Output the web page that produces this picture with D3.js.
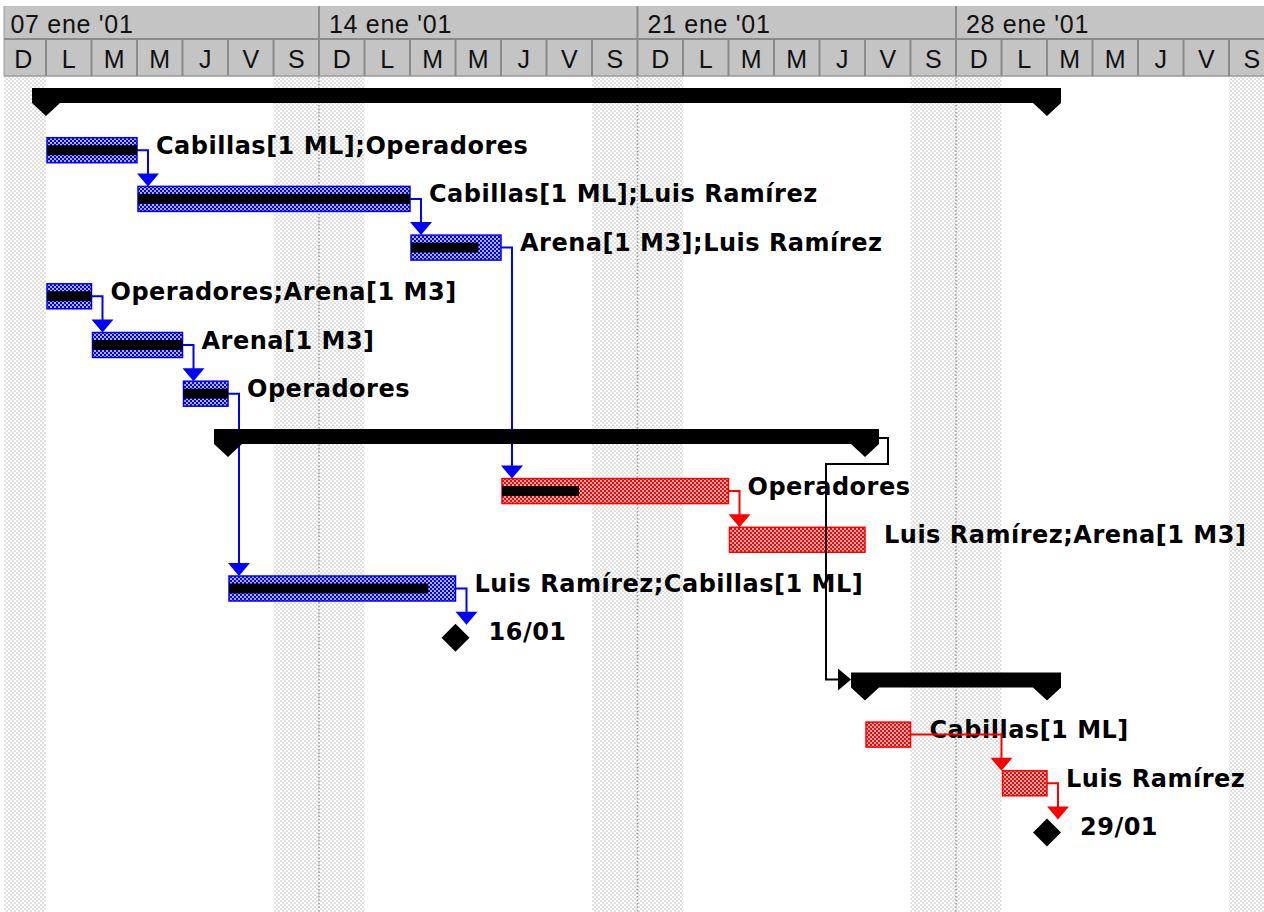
<!DOCTYPE html>
<html lang="es">
    <head>
        <meta charset="UTF-8" />
        <title>Diagrama de Gantt</title>
        <style>
            html,
            body {
                margin: 0;
                padding: 0;
                background: #fff;
            }
            .hdr {
                font-family: "Liberation Sans", Arial, sans-serif;
                font-size: 25px;
                fill: #111;
            }
            .lbl {
                font-family: "DejaVu Sans", sans-serif;
                font-weight: bold;
                font-size: 24px;
                letter-spacing: 0.5px;
                fill: #000;
            }
        </style>
    </head>
    <body>
        <div id="chart"></div>
        <script src="https://cdn.jsdelivr.net/npm/d3@7"></script>
        <script>
            const width = 1264;
            const height = 912;

            // timescale
            const rangeStart = "2001-01-07";
            const rangeEnd = "2001-02-04";
            const dayLetters = ["D", "L", "M", "M", "J", "V", "S"];
            const monthAbbr = ["ene", "feb", "mar", "abr", "may", "jun", "jul", "ago", "sep", "oct", "nov", "dic"];

            // tasks, one per row
            const taskNames = [
                "",
                "Cabillas[1 ML];Operadores",
                "Cabillas[1 ML];Luis Ramírez",
                "Arena[1 M3];Luis Ramírez",
                "Operadores;Arena[1 M3]",
                "Arena[1 M3]",
                "Operadores",
                "",
                "Operadores",
                "Luis Ramírez;Arena[1 M3]",
                "Luis Ramírez;Cabillas[1 ML]",
                "",
                "",
                "Cabillas[1 ML]",
                "Luis Ramírez",
                ""
            ];
            const taskTypes = [
                "summary", "task", "task", "task", "task", "task", "task",
                "summary", "task", "task", "task", "milestone",
                "summary", "task", "task", "milestone"
            ];
            const taskStarts = [
                "2001-01-08", "2001-01-08", "2001-01-10", "2001-01-16", "2001-01-08", "2001-01-09", "2001-01-11",
                "2001-01-12", "2001-01-18", "2001-01-23", "2001-01-12", "2001-01-16",
                "2001-01-26", "2001-01-26", "2001-01-29", "2001-01-29"
            ];
            const taskFinishes = [
                "2001-01-29", "2001-01-09", "2001-01-15", "2001-01-17", "2001-01-08", "2001-01-10", "2001-01-11",
                "2001-01-25", "2001-01-22", "2001-01-25", "2001-01-16", "2001-01-16",
                "2001-01-29", "2001-01-26", "2001-01-29", "2001-01-29"
            ];
            const taskProgress = [0, 1, 1, 0.75, 1, 1, 1, 0, 0.34, 0, 0.88, 0, 0, 0, 0, 0];
            const taskCritical = [false, false, false, false, false, false, false, false, true, true, false, true, false, true, true, true];

            // finish-to-start links [from, to]
            const links = [[1, 2], [2, 3], [3, 8], [4, 5], [5, 6], [6, 10], [8, 9], [10, 11], [7, 12], [13, 14], [14, 15]];

            const parse = d3.timeParse("%Y-%m-%d");
            const tasks = taskNames.map((name, i) => ({
                i,
                name,
                type: taskTypes[i],
                start: parse(taskStarts[i]),
                end: d3.timeDay.offset(parse(taskFinishes[i]), 1),
                finish: parse(taskFinishes[i]),
                progress: taskProgress[i],
                critical: taskCritical[i]
            }));

            const x = d3.scaleTime().domain([parse(rangeStart), parse(rangeEnd)]).range([0.5, 1274.5]);
            const rowTop = d3.scaleLinear().domain([0, 1]).range([88, 136.7]);

            const blue = "#0000ff";
            const red = "#ff0000";
            const colorOf = t => (t.type === "summary" ? "#000" : t.critical ? red : blue);

            const svg = d3.select("#chart").append("svg").attr("width", width).attr("height", height);
            const defs = svg.append("defs");

            function dotPattern(id, bg, dot, r) {
                const p = defs
                    .append("pattern")
                    .attr("id", id)
                    .attr("width", 4)
                    .attr("height", 4)
                    .attr("patternUnits", "userSpaceOnUse");
                p.append("rect").attr("width", 4).attr("height", 4).attr("fill", bg);
                p.append("circle").attr("cx", 1).attr("cy", 1).attr("r", r).attr("fill", dot);
                p.append("circle").attr("cx", 3).attr("cy", 3).attr("r", r).attr("fill", dot);
            }
            dotPattern("pat-weekend", "#fff", "#c2c2c2", 0.85);
            dotPattern("pat-blue", blue, "#fff", 0.95);
            dotPattern("pat-red", red, "#fff", 0.95);

            const chartTop = 77;
            const leftEdge = 4;
            const days = d3.timeDay.range(parse(rangeStart), parse(rangeEnd));
            const weeks = d3.timeWeek.range(parse(rangeStart), parse(rangeEnd));

            // weekend shading
            svg.append("g")
                .selectAll("rect")
                .data(days.filter(d => d.getDay() === 0 || d.getDay() === 6))
                .join("rect")
                .attr("x", d => Math.max(leftEdge, x(d)))
                .attr("y", chartTop)
                .attr("width", d => x(d3.timeDay.offset(d, 1)) - Math.max(leftEdge, x(d)))
                .attr("height", height - chartTop)
                .attr("fill", "url(#pat-weekend)");

            svg.append("g")
                .selectAll("line")
                .data(weeks.filter(d => x(d) > leftEdge))
                .join("line")
                .attr("x1", d => x(d))
                .attr("x2", d => x(d))
                .attr("y1", chartTop)
                .attr("y2", height)
                .attr("stroke", "#9a9a9a")
                .attr("stroke-width", 1.5)
                .attr("stroke-dasharray", "1.5 2");

            // header
            const hdr = svg.append("g");
            hdr.append("rect").attr("x", leftEdge).attr("y", 6).attr("width", width - leftEdge).attr("height", 70).attr("fill", "#c4c4c4");
            hdr.append("line").attr("x1", leftEdge).attr("x2", width).attr("y1", 39).attr("y2", 39).attr("stroke", "#8a8a8a").attr("stroke-width", 2);
            hdr.append("line").attr("x1", leftEdge).attr("x2", width).attr("y1", 76).attr("y2", 76).attr("stroke", "#9a9a9a").attr("stroke-width", 1.5);
            hdr.append("line").attr("x1", leftEdge).attr("x2", leftEdge).attr("y1", 6).attr("y2", 76).attr("stroke", "#9a9a9a").attr("stroke-width", 1);

            hdr.selectAll(".dsep")
                .data(days.filter(d => x(d) > leftEdge))
                .join("line")
                .attr("class", "dsep")
                .attr("x1", d => x(d))
                .attr("x2", d => x(d))
                .attr("y1", 39)
                .attr("y2", 76)
                .attr("stroke", "#8a8a8a")
                .attr("stroke-width", 2);

            hdr.selectAll(".wsep")
                .data(weeks.filter(d => x(d) > leftEdge))
                .join("line")
                .attr("class", "wsep")
                .attr("x1", d => x(d))
                .attr("x2", d => x(d))
                .attr("y1", 6)
                .attr("y2", 39)
                .attr("stroke", "#8a8a8a")
                .attr("stroke-width", 2);

            const fmtDay = d3.timeFormat("%d");
            const fmtYear = d3.timeFormat("%y");
            hdr.selectAll(".wlbl")
                .data(weeks)
                .join("text")
                .attr("class", "hdr wlbl")
                .attr("x", d => x(d) + 10)
                .attr("y", 33)
                .attr("letter-spacing", 0.7)
                .text(d => `${fmtDay(d)} ${monthAbbr[d.getMonth()]} '${fmtYear(d)}`);

            hdr.selectAll(".dlbl")
                .data(days)
                .join("text")
                .attr("class", "hdr dlbl")
                .attr("x", d => (x(d) + x(d3.timeDay.offset(d, 1))) / 2)
                .attr("y", 68)
                .attr("text-anchor", "middle")
                .text(d => dayLetters[d.getDay()]);

            // task bars
            const barH = 25;
            const plain = tasks.filter(t => t.type === "task");
            const bars = svg.append("g");
            bars.selectAll(".bar")
                .data(plain)
                .join("rect")
                .attr("class", "bar")
                .attr("x", t => x(t.start) + 1)
                .attr("y", t => rowTop(t.i) + 1)
                .attr("width", t => x(t.end) - x(t.start) - 1)
                .attr("height", barH)
                .attr("fill", t => (t.critical ? "url(#pat-red)" : "url(#pat-blue)"))
                .attr("stroke", t => colorOf(t))
                .attr("stroke-width", 1.5);

            bars.selectAll(".prog")
                .data(plain.filter(t => t.progress > 0))
                .join("rect")
                .attr("class", "prog")
                .attr("x", t => x(t.start) + 1)
                .attr("y", t => rowTop(t.i) + 8.5)
                .attr("width", t => (x(t.end) - x(t.start) - 1) * t.progress)
                .attr("height", 10)
                .attr("fill", "#000");

            // milestones
            const ms = tasks.filter(t => t.type === "milestone");
            bars.selectAll(".ms")
                .data(ms)
                .join("path")
                .attr("class", "ms")
                .attr("d", t => {
                    const cx = x(t.end);
                    const cy = rowTop(t.i) + 14;
                    return `M${cx},${cy - 14} L${cx + 14},${cy} L${cx},${cy + 14} L${cx - 14},${cy} Z`;
                })
                .attr("fill", "#000");

            // labels
            const fmtMs = d3.timeFormat("%d/%m");
            svg.append("g")
                .selectAll("text")
                .data(tasks.filter(t => t.type !== "summary"))
                .join("text")
                .attr("class", "lbl")
                .attr("x", t => x(t.end) + (t.type === "milestone" ? 33 : 19))
                .attr("y", t => rowTop(t.i) + (t.type === "milestone" ? 16 : 17))
                .text(t => (t.type === "milestone" ? fmtMs(t.finish) : t.name));

            // links
            const lk = svg.append("g");
            links.forEach(([a, b]) => {
                const p = tasks[a];
                const s = tasks[b];
                const col = colorOf(p);
                if (p.type === "summary") {
                    const t0 = rowTop(p.i);
                    const t1 = rowTop(s.i);
                    const xr = x(p.end) + 23;
                    const xl = x(s.start) - 39;
                    const tipX = x(s.start) - 14;
                    const yy = t1 + 7;
                    lk.append("path")
                        .attr("d", `M${x(p.end) + 14},${t0 + 9} H${xr} V${t0 + 35} H${xl} V${yy} H${tipX - 12}`)
                        .attr("fill", "none")
                        .attr("stroke", col)
                        .attr("stroke-width", 2);
                    lk.append("path")
                        .attr("d", `M${tipX - 13},${yy - 11} L${tipX},${yy} L${tipX - 13},${yy + 11} Z`)
                        .attr("fill", col);
                    return;
                }
                const px = x(p.end);
                const py = rowTop(p.i) + 13.5;
                const sx = s.type === "milestone" ? x(s.end) : x(s.start);
                const lx = Math.max(px + 11, sx);
                const tipY = rowTop(s.i) + 1;
                lk.append("path")
                    .attr("d", `M${px},${py} H${lx} V${tipY - 12}`)
                    .attr("fill", "none")
                    .attr("stroke", col)
                    .attr("stroke-width", 2);
                lk.append("path")
                    .attr("d", `M${lx - 11},${tipY - 13} L${lx + 11},${tipY - 13} L${lx},${tipY} Z`)
                    .attr("fill", col);
            });

            // summary bars on top
            svg.append("g")
                .selectAll("path")
                .data(tasks.filter(t => t.type === "summary"))
                .join("path")
                .attr("d", t => {
                    const x1 = x(t.start);
                    const x2 = x(t.end);
                    const top = rowTop(t.i);
                    return `M${x1 - 14},${top} H${x2 + 14} V${top + 15} L${x2},${top + 28} L${x2 - 14},${top + 15} H${x1 + 14} L${x1},${top + 28} L${x1 - 14},${top + 15} Z`;
                })
                .attr("fill", "#000");
        </script>
    </body>
</html>
